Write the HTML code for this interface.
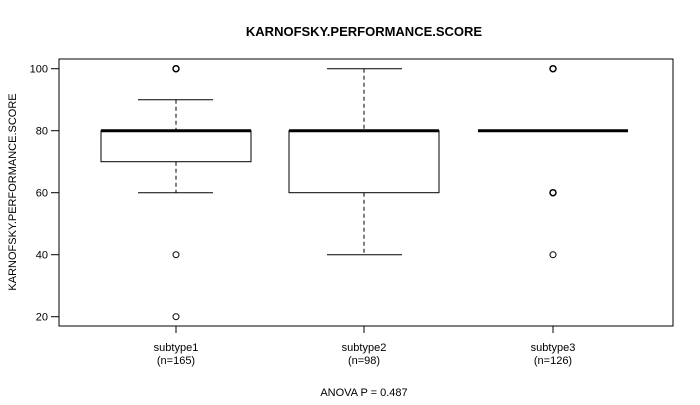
<!DOCTYPE html>
<html><head><style>body{margin:0;background:#fff}</style></head><body>
<svg width="700" height="400" xmlns="http://www.w3.org/2000/svg" font-family="Liberation Sans, sans-serif" font-size="11">
<rect width="700" height="400" fill="#fff"/>
<text x="364" y="36" text-anchor="middle" font-weight="bold" font-size="13">KARNOFSKY.PERFORMANCE.SCORE</text>
<rect x="59" y="59" width="614" height="267" fill="none" stroke="#000"/>
<g stroke="#000">
<line x1="51" y1="68.7" x2="59" y2="68.7"/><line x1="51" y1="130.7" x2="59" y2="130.7"/><line x1="51" y1="192.7" x2="59" y2="192.7"/><line x1="51" y1="254.7" x2="59" y2="254.7"/><line x1="51" y1="316.7" x2="59" y2="316.7"/>
<line x1="176" y1="326" x2="176" y2="333"/><line x1="364" y1="326" x2="364" y2="333"/><line x1="553" y1="326" x2="553" y2="333"/>
</g>
<g text-anchor="end">
<text x="48" y="72.7">100</text><text x="48" y="134.7">80</text><text x="48" y="196.7">60</text><text x="48" y="258.7">40</text><text x="48" y="320.7">20</text>
</g>
<text transform="translate(16,192) rotate(-90)" text-anchor="middle">KARNOFSKY.PERFORMANCE.SCORE</text>
<g text-anchor="middle">
<text x="176" y="351">subtype1</text><text x="176" y="364">(n=165)</text>
<text x="364" y="351">subtype2</text><text x="364" y="364">(n=98)</text>
<text x="553" y="351">subtype3</text><text x="553" y="364">(n=126)</text>
<text x="364" y="396">ANOVA P = 0.487</text>
</g>
<g stroke="#000" fill="none">
<!-- subtype1 -->
<line x1="176" y1="99.7" x2="176" y2="130.7" stroke-dasharray="4,3"/>
<line x1="176" y1="161.7" x2="176" y2="192.7" stroke-dasharray="4,3"/>
<line x1="138" y1="99.7" x2="213" y2="99.7"/><line x1="138" y1="192.7" x2="213" y2="192.7"/>
<rect x="101" y="130.7" width="150" height="31" fill="#fff"/>
<line x1="101" y1="130.7" x2="251" y2="130.7" stroke-width="3"/>
<circle cx="176" cy="68.7" r="3" stroke-width="1.5"/><circle cx="176" cy="254.7" r="3"/><circle cx="176" cy="316.7" r="3"/>
<!-- subtype2 -->
<line x1="364" y1="68.7" x2="364" y2="130.7" stroke-dasharray="4,3"/>
<line x1="364" y1="192.7" x2="364" y2="254.7" stroke-dasharray="4,3"/>
<line x1="327" y1="68.7" x2="402" y2="68.7"/><line x1="327" y1="254.7" x2="402" y2="254.7"/>
<rect x="289" y="130.7" width="150" height="62" fill="#fff"/>
<line x1="289" y1="130.7" x2="439" y2="130.7" stroke-width="3"/>
<!-- subtype3 -->
<line x1="478" y1="130.7" x2="628" y2="130.7" stroke-width="3"/>
<circle cx="553" cy="68.7" r="3" stroke-width="1.5"/><circle cx="553" cy="192.7" r="3" stroke-width="1.5"/><circle cx="553" cy="254.7" r="3"/>
</g>
</svg>
</body></html>
